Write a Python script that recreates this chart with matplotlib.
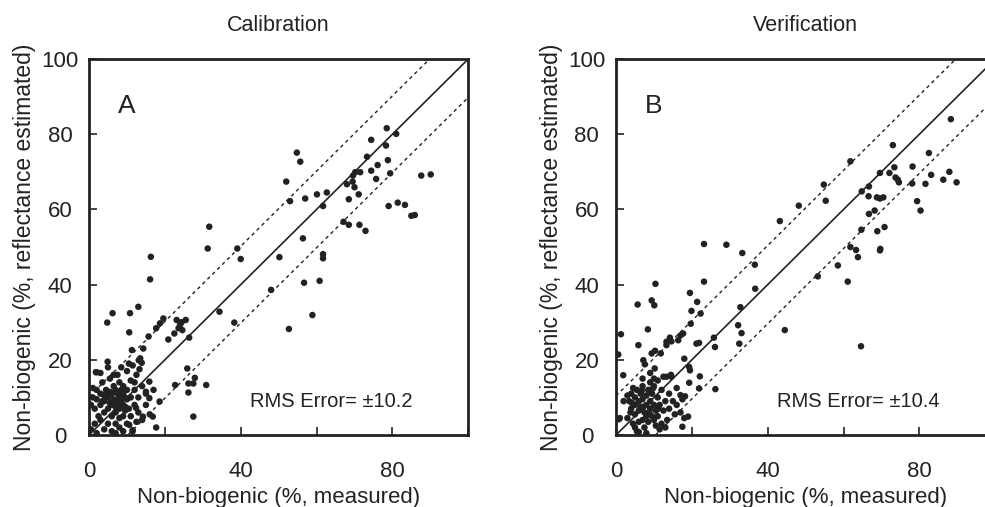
import matplotlib
matplotlib.use('Agg')
import matplotlib.pyplot as plt
import numpy as np

plt.rcParams['font.family'] = ['Liberation Sans', 'DejaVu Sans']

# ---- panel A: calibration (measured, estimated) ----
cal_x = [78.5, 81.0, 74.4, 78.3, 73.3, 78.8, 76.1, 74.4, 75.7, 79.4, 70.2, 71.5, 69.6, 69.5, 68.0,
         70.0, 71.1, 68.5, 87.6, 90.1, 54.8, 55.7, 52.0, 53.0, 57.0, 60.1, 62.7, 61.7, 67.1, 68.5,
         71.3, 72.9, 79.0, 81.4, 83.3, 85.0, 85.9, 56.4, 50.2, 61.7, 61.7, 56.7, 60.8, 58.9, 52.7,
         48.0, 39.1, 40.0, 31.7, 31.3, 34.4, 38.3, 16.3, 16.1, 23.1, 24.4, 25.5, 24.0, 23.6, 24.6,
         22.5, 20.9, 26.4, 19.6, 18.7, 17.7, 15.7, 6.2, 4.8, 10.8, 13.0, 10.6, 25.9, 27.9, 26.2,
         27.5, 30.9, 22.7, 26.2, 27.5, 18.6, 17.7, 17.0, 15.9, 16.8, 14.3, 13.5, 13.9, 4.9, 2.0,
         13.3, 11.3, 13.1, 1.8, 15.0, 15.9, 12.4, 14.2, 10.6, 11.5,
         0.5, 1.0, 1.5, 2.0, 2.5, 3.0, 3.0, 3.5, 4.0, 4.0, 4.5, 5.0, 5.0, 5.0, 5.5, 6.0, 6.0, 6.0,
         6.0, 6.5, 7.0, 7.0, 7.0, 7.0, 7.0, 7.5, 8.0, 8.0, 8.0, 8.0, 8.0, 8.5, 9.0, 9.0, 9.0, 9.0,
         9.0, 9.5, 10.0, 10.0, 10.0, 10.0, 10.5, 10.5, 11.0, 11.0, 11.0, 11.5, 11.5, 12.0, 12.0,
         12.5, 12.5, 13.0, 13.0, 14.0, 14.0, 15.0, 15.0, 16.0, 2.0, 3.5, 4.5, 5.5, 6.5, 7.5, 8.5,
         9.5, 3.0, 1.5, 2.0, 4.0, 0.5, 1.0, 3.0, 5.0, 6.5, 8.5, 12.0, 7.0, 8.0, 9.5, 5.5, 4.0]
cal_y = [81.6, 80.1, 78.5, 77.0, 74.0, 73.1, 71.8, 70.3, 68.1, 69.6, 69.9, 69.9, 69.0, 67.4, 66.7,
         65.9, 64.0, 62.7, 69.0, 69.3, 75.1, 72.7, 67.4, 62.2, 62.9, 64.0, 64.5, 60.9, 56.7, 55.9,
         55.9, 54.3, 60.9, 61.8, 61.2, 58.3, 58.5, 52.3, 47.3, 48.1, 47.0, 40.5, 41.0, 31.9, 28.2,
         38.6, 49.6, 46.8, 55.4, 49.6, 32.8, 29.9, 47.4, 41.4, 30.6, 30.0, 30.6, 29.3, 28.4, 27.9,
         27.0, 25.4, 25.9, 31.0, 29.7, 28.4, 26.2, 32.4, 29.9, 32.4, 34.1, 27.3, 17.7, 15.2, 13.7,
         13.7, 13.3, 13.3, 11.3, 4.9, 8.9, 2.0, 12.0, 14.2, 4.9, 23.0, 20.4, 19.2, 19.5, 16.7,
         17.5, 22.6, 19.9, 16.7, 11.5, 9.8, 7.2, 4.9, 2.7, 1.3,
         1.5, 10.0, 7.0, 12.0, 5.0, 8.0, 11.0, 14.0, 6.0, 9.0, 12.0, 3.0, 7.0, 10.0, 15.0, 1.0, 5.0, 8.0,
         11.0, 13.0, 0.5, 3.0, 6.0, 9.0, 12.0, 16.0, 2.0, 4.5, 7.0, 10.0, 14.0, 18.0, 1.0, 5.0, 8.0, 11.0,
         13.0, 6.5, 3.0, 9.5, 12.0, 17.0, 19.0, 7.0, 5.0, 10.0, 14.5, 1.0, 18.5, 8.0, 12.0,
         3.5, 16.0, 10.0, 6.0, 13.0, 4.0, 8.0, 11.0, 5.5, 9.5, 9.0, 11.0, 8.5, 9.5, 11.0, 9.0,
         10.0, 4.0, 3.0, 0.5, 1.5, 8.0, 12.5, 16.5, 18.0, 16.0, 12.0, 14.0, 7.5, 8.5, 7.5, 11.5, 10.5]

# ---- panel B: verification (measured, estimated) ----
ver_x = [88.3, 73.0, 82.5, 78.2, 73.4, 72.1, 69.6, 61.8, 83.1, 87.9, 86.3, 89.8, 73.7, 74.3, 74.6,
         78.1, 81.6, 66.7, 64.8, 66.6, 68.8, 69.6, 70.5, 54.8, 55.3, 48.2, 43.2, 79.4, 80.3, 68.2,
         66.7, 70.8, 68.9, 64.7, 69.7, 69.6, 61.8, 63.3, 63.8, 58.5, 61.1, 53.2, 64.6, 44.5, 33.3,
         36.6, 36.7, 32.8, 32.2, 33.1, 32.5, 29.1, 23.2, 23.2, 19.5, 21.4, 22.3, 19.9, 10.4, 5.7,
         9.4, 10.1, 8.4, 19.7, 17.7, 16.4, 17.0, 21.2, 21.9, 25.8, 26.1, 26.2, 22.1, 21.9, 19.3,
         19.5, 19.3, 18.0, 17.0, 18.2, 19.0, 17.5, 14.2, 13.3, 14.6, 13.3, 11.8, 10.3, 9.4, 7.2,
         7.6, 5.9, 1.3, 0.6, 1.9, 0.8, 10.2, 14.6, 13.3,
         3.0, 3.5, 4.0, 4.0, 4.5, 4.5, 5.0, 5.0, 5.0, 5.5, 5.5, 6.0, 6.0, 6.0, 6.5, 6.5, 7.0, 7.0,
         7.0, 7.5, 7.5, 8.0, 8.0, 8.0, 8.5, 8.5, 9.0, 9.0, 9.0, 9.5, 9.5, 10.0, 10.0, 10.0, 10.0,
         10.5, 10.5, 11.0, 11.0, 11.0, 11.5, 12.0, 12.0, 12.5, 12.5, 13.0, 13.5, 14.0, 14.0, 14.5,
         15.0, 15.5, 16.0, 16.0, 17.0, 17.5, 18.0, 5.0, 8.0, 6.0, 2.0, 1.0, 3.0, 7.0, 9.0, 11.5,
         13.0, 3.8, 6.8, 9.8, 4.2, 7.2, 8.8, 11.2]
ver_y = [84.0, 77.1, 75.0, 71.4, 71.2, 69.7, 69.7, 72.8, 69.2, 70.0, 67.9, 67.2, 68.5, 67.9, 67.2,
         66.9, 66.8, 66.1, 64.8, 63.5, 63.2, 62.9, 63.2, 66.6, 62.3, 61.0, 56.9, 62.2, 59.7, 59.7,
         58.8, 55.3, 54.2, 54.6, 49.5, 49.1, 50.0, 49.2, 47.3, 45.1, 40.8, 42.2, 23.6, 27.9, 48.4,
         45.3, 38.9, 34.0, 29.2, 27.1, 24.3, 50.6, 50.8, 40.8, 37.8, 35.4, 32.3, 33.0, 40.2, 34.7,
         35.8, 34.5, 28.1, 29.6, 27.0, 25.2, 26.5, 24.3, 24.5, 25.9, 23.4, 12.2, 15.6, 12.4, 18.1,
         17.2, 13.9, 20.3, 10.6, 10.3, 4.9, 2.2, 25.9, 24.8, 24.9, 23.9, 21.7, 22.4, 21.7, 19.9,
         18.8, 23.9, 26.8, 21.4, 15.9, 4.2, 17.7, 15.5, 15.5,
         4.5, 9.0, 11.0, 7.0, 12.5, 3.0, 8.0, 10.0, 5.5, 12.0, 1.0, 6.5, 9.0, 3.5, 11.0, 7.5, 4.0, 9.5,
         13.0, 6.0, 2.0, 8.0, 10.5, 5.0, 12.0, 3.5, 7.0, 14.0, 9.0, 5.0, 11.0, 4.0, 8.0, 13.0, 15.0,
         2.5, 6.5, 10.0, 14.5, 5.0, 8.0, 3.0, 12.0, 6.5, 15.5, 9.0, 4.0, 11.0, 7.0, 16.0,
         9.0, 5.5, 8.0, 12.5, 6.0, 9.5, 4.5, 2.0, 0.5, 0.8, 9.0, 4.5, 10.5, 15.0, 16.5, 1.5,
         2.0, 6.0, 11.8, 12.5, 8.5, 7.5, 6.0, 7.0]

titles = ['Calibration', 'Verification']
letters = ['A', 'B']
rms = [10.2, 10.4]
rms_text = ['RMS Error= \u00b110.2', 'RMS Error= \u00b110.4']

ink = '#222222'

fig = plt.figure(figsize=(9.85, 5.07), dpi=100)
ax1 = fig.add_axes([0.0904, 0.142, 0.385, 0.7416])
ax2 = fig.add_axes([0.6254, 0.142, 0.385, 0.7416])

for ax, xs, ys, title, letter, err, txt in zip([ax1, ax2], [cal_x, ver_x], [cal_y, ver_y],
                                                titles, letters, rms, rms_text):
    line = np.array([0, 100])
    ax.plot(line, line, color=ink, lw=1.2)
    ax.plot(line, line + err, color=ink, lw=1.0, ls=(0, (2.5, 2.5)))
    ax.plot(line, line - err, color=ink, lw=1.0, ls=(0, (2.5, 2.5)))
    ax.scatter(xs, ys, s=22, color=ink, edgecolors='none', zorder=3)

    ax.set_xlim(0, 100)
    ax.set_ylim(0, 100)
    ax.set_xticks([0, 20, 40, 60, 80, 100])
    ax.set_xticklabels(['0', '', '40', '', '80', ''])
    ax.set_yticks([0, 20, 40, 60, 80, 100])
    ax.tick_params(axis='x', direction='in', length=6, width=1.2, pad=19, labelsize=16, colors=ink)
    ax.tick_params(axis='y', direction='in', length=6, width=1.2, pad=21, labelsize=16, colors=ink)
    for lab in ax.get_yticklabels():
        lab.set_horizontalalignment('center')
    for sp in ax.spines.values():
        sp.set_linewidth(2)
        sp.set_color(ink)

    ax.set_xlabel('Non-biogenic (%, measured)', fontsize=16, color=ink, labelpad=3)
    ax.set_ylabel('Non-biogenic (%, reflectance estimated)', fontsize=16.5, color=ink, labelpad=4)
    ax.set_title(title, fontsize=15.5, color=ink, pad=20)
    ax.text(7.5, 85.6, letter, fontsize=19, color=ink)
    ax.text(42.4, 9.0, txt, fontsize=14.5, color=ink, va='center')

fig.savefig('out.png', dpi=100)
